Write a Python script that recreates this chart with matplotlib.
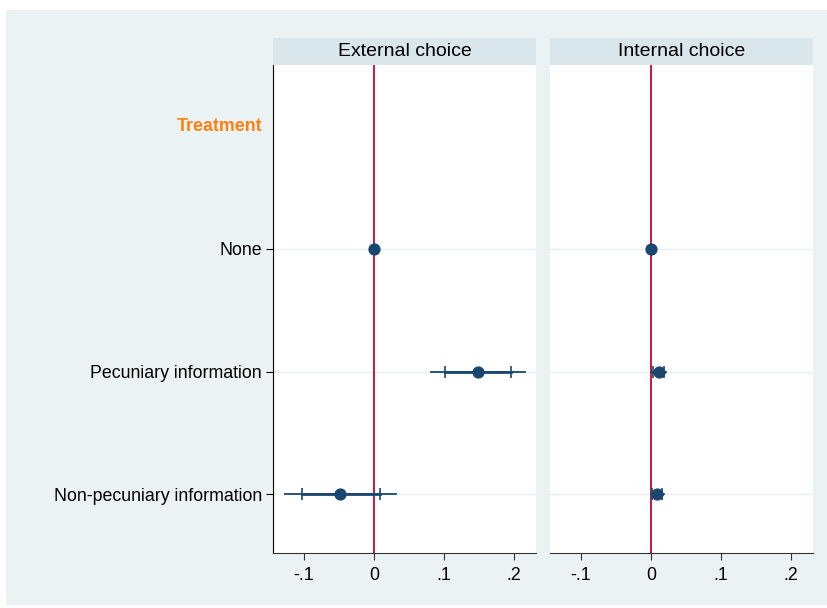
import matplotlib.pyplot as plt

plt.rcParams['font.family'] = ['Liberation Sans', 'DejaVu Sans']

# coefficient estimates per panel, rows: None, Pecuniary, Non-pecuniary
panels = ["External choice", "Internal choice"]
rows = ["None", "Pecuniary information", "Non-pecuniary information"]
group_label = "Treatment"

coef = [[0.0, 0.148, -0.048],
        [0.0, 0.011, 0.009]]
# wide interval (thin line)
ci_lo = [[0.0, 0.081, -0.127],
         [0.0, 0.000, 0.000]]
ci_hi = [[0.0, 0.216, 0.032],
         [0.0, 0.021, 0.018]]
# narrow interval (tick marks)
ci90_lo = [[0.0, 0.101, -0.103],
           [0.0, 0.003, 0.002]]
ci90_hi = [[0.0, 0.195, 0.009],
           [0.0, 0.018, 0.016]]

xticks = [-0.1, 0, 0.1, 0.2]
xticklabels = ["-.1", "0", ".1", ".2"]

navy = "#1a476f"
bg = "#eaf2f3"
strip = "#d9e6eb"
fs = 12.8

fig = plt.figure(figsize=(8.27, 6.08), dpi=100)
# light graph region behind the panels
bax = fig.add_axes([6/827, 3/608, 821/827, 595/608], zorder=-10)
bax.set_facecolor(bg)
bax.set_xticks([])
bax.set_yticks([])
for s in bax.spines.values():
    s.set_visible(False)

ypos = [2, 3, 4]
lefts = [273/827, 550/827]
w = 263/827
bottom = 1 - 553/608
h = (553 - 65)/608
sh = 27/608

for i, name in enumerate(panels):
    ax = fig.add_axes([lefts[i], bottom, w, h])
    ax.set_facecolor("white")
    for y in ypos:
        ax.axhline(y, color="#e6eef0", lw=1, zorder=1)
    ax.axvline(0, color="#c10534", lw=1.3, zorder=2)
    for j, y in enumerate(ypos):
        ax.plot([ci_lo[i][j], ci_hi[i][j]], [y, y], color=navy, lw=1.3, zorder=3)
        ax.plot([ci90_lo[i][j], ci90_hi[i][j]], [y, y], color=navy, lw=2, zorder=3)
        ax.plot([ci90_lo[i][j], ci90_hi[i][j]], [y, y], ls="none", marker="|",
                ms=9, mew=1.2, color=navy, zorder=4)
        ax.plot(coef[i][j], y, "o", ms=7.8, color=navy, zorder=5)
    ax.set_xlim(-0.1443, 0.2314)
    ax.set_ylim(4.48, 0.5)
    ax.set_xticks(xticks)
    ax.set_xticklabels(xticklabels, fontsize=fs)
    ax.tick_params(axis="x", length=5, width=0.8, pad=5, color="#333333")
    for s in ["top", "right"]:
        ax.spines[s].set_visible(False)
    ax.spines["bottom"].set_color("#333333")
    if i == 0:
        ax.set_yticks(ypos)
        ax.set_yticklabels(rows, fontsize=fs)
        ax.tick_params(axis="y", length=5, width=0.8, pad=3)
        ax.spines["left"].set_color("black")
        ax.text(-0.042, 1, group_label, transform=ax.get_yaxis_transform(),
                ha="right", va="center", fontsize=fs, fontweight="bold", color="#ff7f0e")
    else:
        ax.set_yticks([])
        ax.spines["left"].set_visible(False)
    sax = fig.add_axes([lefts[i], bottom + h, w, sh])
    sax.set_facecolor(strip)
    sax.set_xticks([])
    sax.set_yticks([])
    for s in sax.spines.values():
        s.set_visible(False)
    sax.text(0.5, 0.5, name, ha="center", va="center", fontsize=14, transform=sax.transAxes)

fig.savefig("out.png", dpi=100, facecolor="white")
